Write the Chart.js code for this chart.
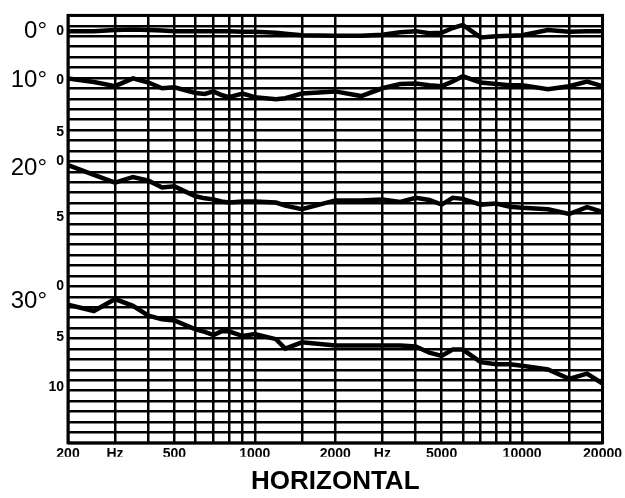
<!DOCTYPE html>
<html>
<head>
<meta charset="utf-8">
<script src="https://cdn.jsdelivr.net/npm/chart.js@4.4.1/dist/chart.umd.min.js"></script>
<style>
    html, body { margin: 0; padding: 0; background: #fff; }
    #wrap { width: 625px; height: 498px; }
</style>
</head>
<body>
<div id="wrap"><canvas id="polarChart"></canvas></div>
<script>
// ===================================
// Off-axis response, horizontal plane
// ===================================

// Frequencies (Hz) the curves were read at
const freqs = [200, 250, 300, 350, 400, 450, 500, 600, 650, 700, 750, 800, 900, 1000, 1200, 1300, 1500,
    2000, 2500, 3000, 3500, 4000, 4500, 5000, 5500, 6000, 7000, 8000, 9000, 10000, 12500, 15000, 17500, 20000];

// dB below each curve's own zero line
const resp0 = [0, 0, -0.1, -0.15, -0.1, -0.05, 0, 0, 0, 0, 0, 0, 0.05, 0.05, 0.15, 0.25, 0.4,
    0.45, 0.45, 0.35, 0.1, 0, 0.2, 0.15, -0.3, -0.6, 0.6, 0.5, 0.45, 0.4, -0.1, 0.05, 0, 0];
const resp10 = [0, 0.35, 0.75, 0, 0.4, 0.95, 0.85, 1.4, 1.5, 1.25, 1.6, 1.8, 1.45, 1.8, 2.0, 1.9, 1.45,
    1.25, 1.7, 0.95, 0.55, 0.5, 0.65, 0.75, 0.3, -0.2, 0.4, 0.55, 0.65, 0.65, 1.05, 0.75, 0.3, 0.75];
const resp20 = [0, 0.95, 1.7, 1.15, 1.5, 2.15, 2.05, 3.0, 3.2, 3.3, 3.5, 3.6, 3.5, 3.5, 3.6, 3.9, 4.25,
    3.4, 3.4, 3.3, 3.55, 3.15, 3.35, 3.8, 3.15, 3.25, 3.8, 3.7, 4.0, 4.1, 4.25, 4.7, 4.05, 4.5];
const resp30 = [1.7, 2.3, 1.15, 1.8, 2.75, 3.1, 3.2, 4.05, 4.3, 4.6, 4.25, 4.25, 4.7, 4.5, 5.0, 5.9, 5.3,
    5.6, 5.6, 5.6, 5.6, 5.7, 6.3, 6.6, 6.0, 6.0, 7.2, 7.4, 7.4, 7.55, 7.9, 8.8, 8.3, 9.25];

// Where each curve's zero sits on the stacked grid (grid rows from the top)
const curveOffsets = [1.51, 6.04, 14.35, 26.06];
const gridRows = 41;

// Tick labels
const freqGrid = [200, 300, 400, 500, 600, 700, 800, 900, 1000, 1500,
    2000, 3000, 4000, 5000, 6000, 7000, 8000, 9000, 10000, 15000, 20000];
const freqLabels = { 200: '200', 300: 'Hz', 500: '500', 1000: '1000', 2000: '2000',
    3000: 'Hz', 5000: '5000', 10000: '10000', 20000: '20000' };
const dbTickPos = [1.51, 6.23, 11.24, 13.97, 19.36, 25.97, 30.88, 35.7];
const dbTickLabels = ['0', '0', '5', '0', '5', '0', '5', '10'];
const angleTickPos = [1.51, 6.23, 14.64, 27.4];
const angleLabels = ['0°', '10°', '20°', '30°'];

const allResp = [resp0, resp10, resp20, resp30];

function buildDatasets() {
    return allResp.map((resp, k) => ({
        label: angleLabels[k],
        data: freqs.map((f, i) => ({ x: f, y: curveOffsets[k] + resp[i] })),
        borderColor: '#000',
        borderWidth: 4.5,
        pointRadius: 0,
        tension: 0,
        fill: false
    }));
}

// thick frame round the plot
const frameBorder = {
    id: 'frameBorder',
    afterDraw(chart) {
        const { ctx, chartArea: a } = chart;
        ctx.save();
        ctx.strokeStyle = '#000';
        ctx.lineWidth = 3;
        ctx.strokeRect(a.left, a.top, a.right - a.left, a.bottom - a.top);
        ctx.restore();
    }
};

const labelFont = { family: 'Liberation Sans, Arial, sans-serif', size: 14, weight: 'bold' };

new Chart(document.getElementById('polarChart'), {
    type: 'line',
    data: { datasets: buildDatasets() },
    options: {
        responsive: true,
        maintainAspectRatio: false,
        animation: false,
        layout: { padding: { top: 8, right: 22, left: 0, bottom: 0 } },
        plugins: {
            legend: { display: false },
            tooltip: { enabled: false },
            title: {
                display: true,
                text: 'HORIZONTAL',
                position: 'bottom',
                fullSize: false,
                color: '#000',
                font: { family: 'Liberation Sans, Arial, sans-serif', size: 26, weight: 'bold', lineHeight: 1.2 },
                padding: { top: 9, bottom: 1 }
            }
        },
        scales: {
            x: {
                type: 'logarithmic',
                min: 200,
                max: 20000,
                afterBuildTicks: axis => { axis.ticks = freqGrid.map(v => ({ value: v })); },
                afterFit: axis => { axis.height = 14; },
                ticks: {
                    autoSkip: false,
                    maxRotation: 0,
                    padding: 3,
                    color: '#000',
                    font: labelFont,
                    callback: v => freqLabels[v] || ''
                },
                grid: { color: '#000', lineWidth: 2.5, drawTicks: false },
                border: { display: false }
            },
            y: {
                type: 'linear',
                position: 'left',
                weight: 0,
                min: 0,
                max: gridRows,
                reverse: true,
                afterBuildTicks: axis => {
                    const t = [];
                    for (let i = 0; i <= gridRows; i++) t.push({ value: i });
                    axis.ticks = t;
                },
                afterFit: axis => { axis.width = 0; },
                ticks: { display: false },
                grid: { color: '#000', lineWidth: 2.5, drawTicks: false },
                border: { display: false }
            },
            yDb: {
                type: 'linear',
                position: 'left',
                weight: 1,
                min: 0,
                max: gridRows,
                reverse: true,
                afterBuildTicks: axis => { axis.ticks = dbTickPos.map(v => ({ value: v })); },
                afterFit: axis => { axis.width = 20; },
                ticks: {
                    autoSkip: false,
                    padding: 4,
                    color: '#000',
                    font: labelFont,
                    callback: (v, i) => dbTickLabels[i]
                },
                grid: { display: false, drawTicks: false },
                border: { display: false }
            },
            yAngle: {
                type: 'linear',
                position: 'left',
                weight: 2,
                min: 0,
                max: gridRows,
                reverse: true,
                afterBuildTicks: axis => { axis.ticks = angleTickPos.map(v => ({ value: v })); },
                afterFit: axis => { axis.width = 48; },
                ticks: {
                    autoSkip: false,
                    padding: 1,
                    color: '#000',
                    font: { family: 'Liberation Sans, Arial, sans-serif', size: 24 },
                    callback: (v, i) => angleLabels[i]
                },
                grid: { display: false, drawTicks: false },
                border: { display: false }
            }
        }
    },
    plugins: [frameBorder]
});
</script>
</body>
</html>
